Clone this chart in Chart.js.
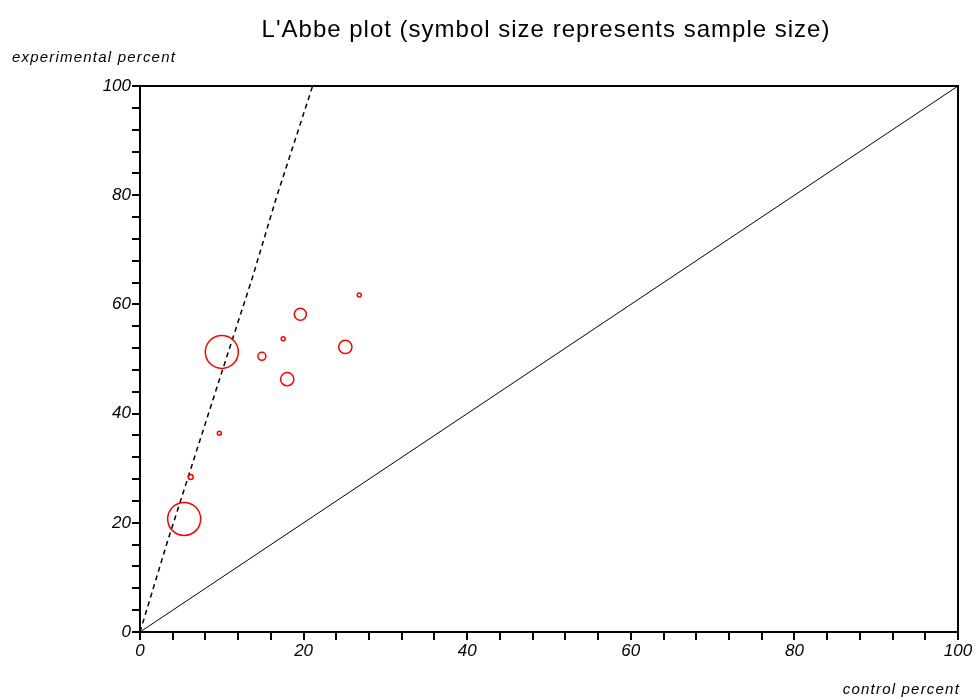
<!DOCTYPE html>
<html>
<head>
<meta charset="utf-8">
<script src="https://cdn.jsdelivr.net/npm/chart.js@4"></script>
<style>
  html, body { margin: 0; padding: 0; background: #fff; }
  #wrap { width: 978px; height: 700px; }
</style>
</head>
<body>
<div id="wrap"><canvas id="labbe"></canvas></div>
<script>
// trials: control vs experimental event percent
const controlPct = [10.0, 5.4, 19.6, 25.1, 18.0, 14.9, 17.5, 26.8, 9.7, 6.2];
const experimentalPct = [51.3, 20.7, 58.2, 52.2, 46.3, 50.5, 53.7, 61.7, 36.4, 28.4];
const sampleSize = [272, 272, 36, 44, 44, 16, 4, 4, 4, 6];

// pooled effect line (dashed) and line of no effect
const pooledX = [0, 3.3, 5.1, 9.7, 13.7, 16.7, 21.1];
const pooledY = [0, 16.3, 24.7, 46.2, 64.7, 79.7, 100];
const equalX = [0, 100];
const equalY = [0, 100];

const tickFont = { family: 'Liberation Sans', size: 17, style: 'italic' };

const frame = {
    id: 'frame',
    afterDraw(chart) {
        const ctx = chart.ctx;
        const a = chart.chartArea;
        ctx.save();
        ctx.strokeStyle = '#000';
        ctx.lineWidth = 2;
        ctx.beginPath();
        ctx.moveTo(a.left, a.top);
        ctx.lineTo(a.right, a.top);
        ctx.lineTo(a.right, a.bottom);
        ctx.stroke();

        ctx.fillStyle = '#000';
        ctx.font = '24px "Liberation Sans"';
        ctx.letterSpacing = '1px';
        ctx.textAlign = 'center';
        ctx.textBaseline = 'middle';
        ctx.fillText("L'Abbe plot (symbol size represents sample size)", 546, 30);

        ctx.font = 'italic 15px "Liberation Sans"';
        ctx.letterSpacing = '1.2px';
        ctx.textAlign = 'left';
        ctx.fillText('experimental percent', 12, 58);
        ctx.textAlign = 'right';
        ctx.fillText('control percent', 960, 690);
        ctx.restore();
    }
};

new Chart(document.getElementById('labbe'), {
    type: 'scatter',
    data: {
        datasets: [{
            data: controlPct.map((x, i) => ({ x, y: experimentalPct[i] })),
            pointRadius: sampleSize.map(n => Math.sqrt(n)),
            pointStyle: 'circle',
            borderColor: '#ff0000',
            backgroundColor: 'rgba(0,0,0,0)',
            borderWidth: 1.5,
            order: 0
        }, {
            type: 'line',
            data: pooledX.map((x, i) => ({ x, y: pooledY[i] })),
            borderColor: '#000',
            borderWidth: 1.5,
            borderDash: [5, 4],
            pointRadius: 0,
            fill: false,
            order: 1
        }, {
            type: 'line',
            data: equalX.map((x, i) => ({ x, y: equalY[i] })),
            borderColor: '#000',
            borderWidth: 1,
            pointRadius: 0,
            fill: false,
            order: 2
        }]
    },
    options: {
        responsive: true,
        maintainAspectRatio: false,
        animation: false,
        layout: { padding: { left: 0, right: 20, top: 86, bottom: 0 } },
        plugins: {
            legend: { display: false },
            tooltip: { enabled: false }
        },
        scales: {
            x: {
                type: 'linear',
                min: 0,
                max: 100,
                afterFit(scale) { scale.height = 68; },
                border: { display: true, color: '#000', width: 2 },
                grid: { display: true, drawOnChartArea: false, drawTicks: true, tickLength: 8, color: '#000', lineWidth: 2 },
                ticks: {
                    stepSize: 4,
                    autoSkip: false,
                    maxRotation: 0,
                    color: '#000',
                    font: tickFont,
                    padding: 1,
                    callback: v => (v % 20 === 0 ? v : '')
                }
            },
            y: {
                type: 'linear',
                min: 0,
                max: 100,
                afterFit(scale) { scale.width = 140; },
                border: { display: true, color: '#000', width: 2 },
                grid: { display: true, drawOnChartArea: false, drawTicks: true, tickLength: 8, color: '#000', lineWidth: 2 },
                ticks: {
                    stepSize: 4,
                    autoSkip: false,
                    color: '#000',
                    font: tickFont,
                    padding: 1,
                    callback: v => (v % 20 === 0 ? v : '')
                }
            }
        }
    },
    plugins: [frame]
});
</script>
</body>
</html>
